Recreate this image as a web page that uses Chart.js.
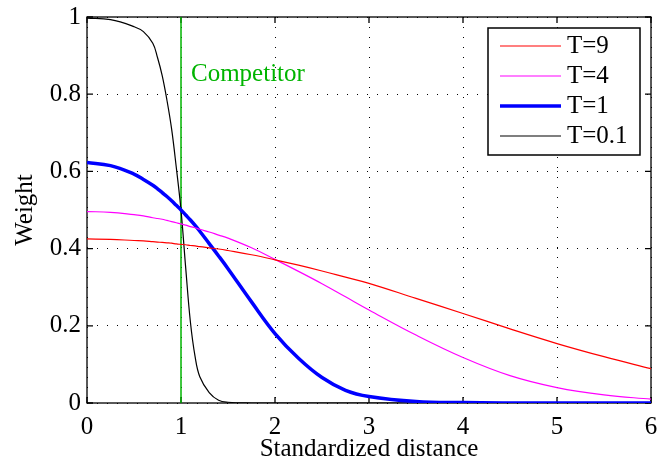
<!DOCTYPE html>
<html>
<head>
<meta charset="utf-8">
<script src="https://cdn.jsdelivr.net/npm/chart.js@4/dist/chart.umd.min.js"></script>
<style>
html,body{margin:0;padding:0;background:#fff;}
#wrap{width:659px;height:464px;}
</style>
</head>
<body>
<div id="wrap"><canvas id="weights" width="659" height="464"></canvas></div>
<script>
// values
const distance = [0,0.25,0.5,0.6,0.7,0.75,0.8,0.85,0.9,0.95,1,1.05,1.1,1.15,1.2,1.3,1.4,1.5,1.75,2,2.25,2.5,2.75,3,3.5,4,4.5,5,5.5,6];
const weightT9 = [0.425,0.424,0.421,0.42,0.418,0.417,0.416,0.415,0.414,0.412,0.411,0.41,0.408,0.407,0.405,0.402,0.399,0.395,0.384,0.371,0.357,0.342,0.326,0.31,0.271,0.232,0.192,0.154,0.12,0.089];
const weightT4 = [0.496,0.494,0.488,0.485,0.48,0.478,0.476,0.473,0.47,0.467,0.464,0.461,0.457,0.454,0.45,0.443,0.435,0.427,0.402,0.372,0.341,0.309,0.275,0.241,0.176,0.118,0.071,0.04,0.021,0.01];
const weightT1 = [0.623,0.615,0.593,0.579,0.564,0.555,0.545,0.535,0.524,0.512,0.5,0.487,0.474,0.46,0.445,0.413,0.381,0.348,0.262,0.18,0.116,0.066,0.033,0.017,0.004,0.001,0,0,0,0];
const weightT01 = [0.997,0.993,0.975,0.962,0.932,0.895,0.848,0.785,0.71,0.61,0.5,0.35,0.21,0.12,0.068,0.027,0.007,0.002,0,0,0,0,0,0,0,0,0,0,0,0];
const seriesLabels = ['T=9','T=4','T=1','T=0.1'];
const competitorAt = 1;
const xTicks = [0,1,2,3,4,5,6];
const yTicks = [0,0.2,0.4,0.6,0.8,1];

const serif = 'Liberation Serif, Times New Roman, serif';
const green = '#00b400';
const pts = ys => distance.map((d, i) => ({x: d, y: ys[i]}));
const noPad = s => { s.paddingTop = 0; s.paddingBottom = 0; s.paddingLeft = 0; s.paddingRight = 0; };

const frame = {
  id: 'frame',
  beforeDatasetsDraw(chart) {
    const {ctx, chartArea: a, scales: {x, y}} = chart;
    ctx.save();
    ctx.strokeStyle = '#000';
    ctx.lineWidth = 1.3;
    ctx.beginPath();
    xTicks.forEach(v => {
      const p = x.getPixelForValue(v);
      ctx.moveTo(p, a.bottom); ctx.lineTo(p, a.bottom - 6);
      ctx.moveTo(p, a.top); ctx.lineTo(p, a.top + 6);
    });
    yTicks.forEach(v => {
      const p = y.getPixelForValue(v);
      ctx.moveTo(a.left, p); ctx.lineTo(a.left + 6, p);
      ctx.moveTo(a.right, p); ctx.lineTo(a.right - 6, p);
    });
    ctx.stroke();
    ctx.strokeRect(a.left, a.top, a.width, a.height);
    ctx.restore();
  },
  afterDatasetsDraw(chart) {
    const {ctx, chartArea: a, scales: {x, y}} = chart;
    ctx.save();
    ctx.font = '25px ' + serif;
    ctx.fillStyle = green;
    ctx.textBaseline = 'middle';
    ctx.fillText('Competitor', x.getPixelForValue(competitorAt) + 10, y.getPixelForValue(0.85));
    // legend box, top right inside the axes
    const bx = a.right - 163, by = a.top + 11, bw = 152, bh = 127;
    ctx.fillStyle = '#fff';
    ctx.fillRect(bx, by, bw, bh);
    ctx.strokeStyle = '#000';
    ctx.lineWidth = 1.5;
    ctx.strokeRect(bx, by, bw, bh);
    chart.data.datasets.slice(0, 4).forEach((ds, i) => {
      const ry = by + 18 + i * 30;
      ctx.strokeStyle = ds.borderColor;
      ctx.lineWidth = ds.borderWidth;
      ctx.beginPath();
      ctx.moveTo(bx + 12, ry); ctx.lineTo(bx + 73, ry);
      ctx.stroke();
      ctx.fillStyle = '#000';
      ctx.fillText(ds.label, bx + 79, ry);
    });
    ctx.restore();
  }
};

new Chart(document.getElementById('weights'), {
  type: 'line',
  data: {
    datasets: [
      {label: seriesLabels[0], data: pts(weightT9), borderColor: '#ff0000', borderWidth: 1.2},
      {label: seriesLabels[1], data: pts(weightT4), borderColor: '#ff00ff', borderWidth: 1.2},
      {label: seriesLabels[2], data: pts(weightT1), borderColor: '#0000ff', borderWidth: 3.5},
      {label: seriesLabels[3], data: pts(weightT01), borderColor: '#000000', borderWidth: 1.2},
      {label: 'Competitor', data: [{x: competitorAt, y: 0}, {x: competitorAt, y: 1}], borderColor: green, borderWidth: 1.5, tension: 0}
    ]
  },
  options: {
    responsive: false,
    animation: false,
    layout: {padding: {top: 17, right: 8, left: 0, bottom: 0}},
    elements: {point: {radius: 0}, line: {tension: 0.4, fill: false}},
    plugins: {legend: {display: false}, tooltip: {enabled: false}},
    scales: {
      x: {
        type: 'linear', min: 0, max: 6,
        afterBuildTicks: s => { s.ticks = xTicks.map(v => ({value: v})); },
        afterFit: s => { s.height = 61; noPad(s); },
        grid: {color: '#000', lineWidth: 1, drawTicks: false},
        border: {display: false, dash: [1, 9]},
        ticks: {color: '#000', font: {family: serif, size: 25}, padding: 9, maxRotation: 0, callback: v => String(v)},
        title: {display: true, text: 'Standardized distance', color: '#000', font: {family: serif, size: 25}, padding: 0}
      },
      y: {
        min: 0, max: 1,
        afterBuildTicks: s => { s.ticks = yTicks.map(v => ({value: v})); },
        afterFit: s => { s.width = 87; noPad(s); },
        grid: {color: '#000', lineWidth: 1, drawTicks: false},
        border: {display: false, dash: [1, 9]},
        ticks: {color: '#000', font: {family: serif, size: 25}, padding: 6, callback: v => String(v)},
        title: {display: true, text: 'Weight', color: '#000', font: {family: serif, size: 25}, padding: {top: 10, bottom: 0}}
      }
    }
  },
  plugins: [frame]
});
</script>
</body>
</html>
